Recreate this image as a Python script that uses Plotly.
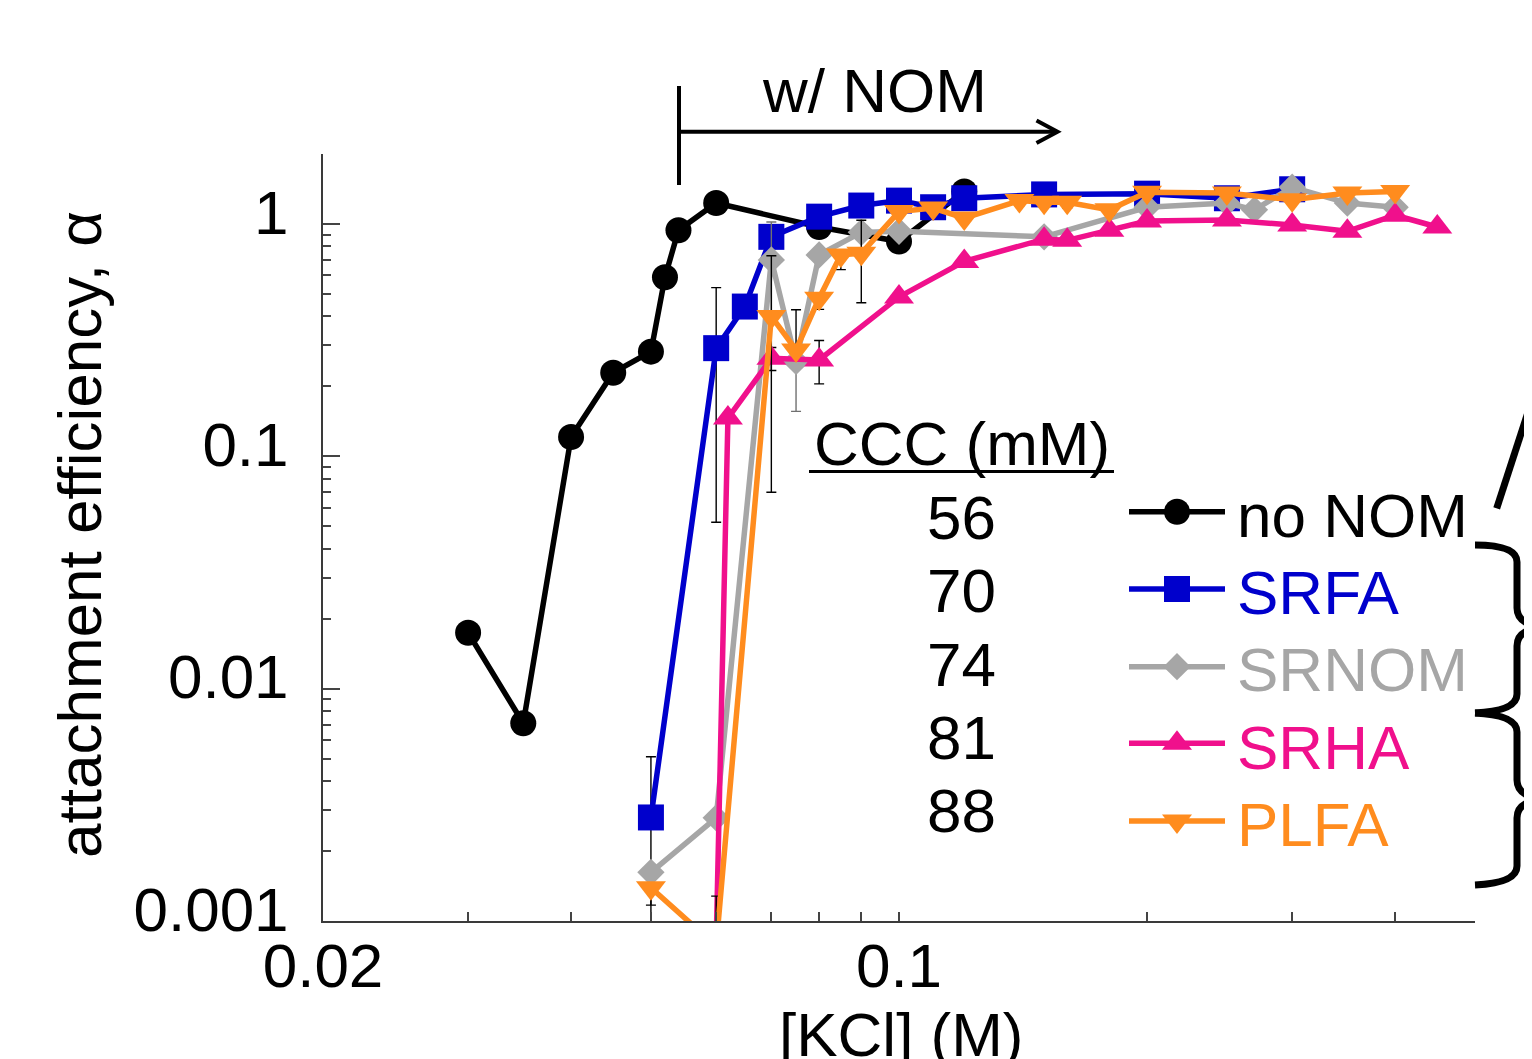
import plotly.graph_objects as go

FONT = "Liberation Sans, Arial, Helvetica, sans-serif"
FS = 62

# ---------------- data ----------------
kcl_none = [0.030, 0.035, 0.040, 0.045, 0.050, 0.052, 0.054, 0.060, 0.080, 0.100, 0.120]
alpha_none = [0.0174, 0.0071, 0.121, 0.229, 0.282, 0.59, 0.94, 1.23, 0.97, 0.84, 1.38]

kcl_srfa = [0.05, 0.06, 0.065, 0.07, 0.08, 0.09, 0.10, 0.11, 0.12, 0.15, 0.20, 0.25, 0.30]
alpha_srfa = [0.00279, 0.292, 0.441, 0.88, 1.075, 1.20, 1.26, 1.18, 1.29, 1.34, 1.35, 1.29, 1.41]
err_srfa_p = [0.0023, 0.24, 0, 0, 0, 0, 0, 0, 0, 0, 0, 0, 0]
err_srfa_m = [0.0023, 0.24, 0, 0, 0, 0, 0, 0, 0, 0, 0, 0, 0]

kcl_srnom = [0.05, 0.06, 0.07, 0.075, 0.08, 0.09, 0.10, 0.15, 0.20, 0.25, 0.27, 0.30, 0.35, 0.40]
alpha_srnom = [0.00162, 0.00278, 0.70, 0.256, 0.736, 0.92, 0.93, 0.88, 1.18, 1.23, 1.15, 1.44, 1.23, 1.18]
err_srnom_p = [0, 0, 0.32, 0, 0, 0, 0, 0, 0, 0, 0, 0, 0, 0]
err_srnom_m = [0, 0, 0.32, 0.10, 0, 0, 0, 0, 0, 0, 0, 0, 0, 0]

kcl_srha = [0.06, 0.062, 0.07, 0.08, 0.10, 0.12, 0.15, 0.16, 0.18, 0.20, 0.25, 0.30, 0.35, 0.40, 0.45]
alpha_srha = [0.0008, 0.146, 0.264, 0.26, 0.485, 0.69, 0.86, 0.85, 0.94, 1.03, 1.04, 0.99, 0.93, 1.09, 0.97]
err_srha_p = [0, 0, 0.03, 0.055, 0, 0, 0, 0, 0, 0, 0, 0, 0, 0, 0]
err_srha_m = [0, 0, 0.03, 0.055, 0, 0, 0, 0, 0, 0, 0, 0, 0, 0, 0]

kcl_plfa = [0.05, 0.06, 0.07, 0.075, 0.08, 0.085, 0.09, 0.10, 0.11, 0.12, 0.14, 0.15, 0.16, 0.18, 0.20, 0.25, 0.30, 0.35, 0.40]
alpha_plfa = [0.00139, 0.00078, 0.40, 0.287, 0.479, 0.736, 0.748, 1.13, 1.17, 1.06, 1.26, 1.24, 1.24, 1.15, 1.37, 1.36, 1.27, 1.36, 1.38]
err_plfa_p = [0, 0.0005, 0.33, 0.14, 0, 0, 0.29, 0, 0, 0, 0.06, 0, 0.07, 0.06, 0, 0, 0, 0, 0]
err_plfa_m = [0.00022, 0.0005, 0.33, 0, 0.05, 0.10, 0.29, 0, 0, 0, 0.06, 0, 0.07, 0.06, 0, 0, 0, 0, 0]

names = ["no NOM", "SRFA", "SRNOM", "SRHA", "PLFA"]
ccc_values = ["56", "70", "74", "81", "88"]
colors = ["#000000", "#0000CC", "#A6A6A6", "#F0108C", "#FF8C1E"]
symbols = ["circle", "square", "diamond", "triangle-up", "triangle-down"]
sizes = [26, 26, 21, 26, 26]

x_ticks = [0.02, 0.1]
x_ticktext = ["0.02", "0.1"]
x_minor = [0.03, 0.04, 0.05, 0.06, 0.07, 0.08, 0.09, 0.2, 0.3, 0.4, 0.5]
y_ticks = [0.001, 0.01, 0.1, 1]
y_ticktext = ["0.001", "0.01", "0.1", "1"]
y_minor = [k * 10.0 ** e for e in (-3, -2, -1) for k in range(2, 10)] + [2]

# ---------------- layout geometry (pixels, page has an 8px body margin) ----------------
W, H = 1532, 1059
OFF = 8
PL, PT, PW, PH = 323, 154, 1152, 767          # plot box as seen on the page
L, T = PL - OFF, PT - OFF
R, B = W - L - PW, H - T - PH


def xp(px):
    return (px - PL) / PW


def yp(py):
    return (PT + PH - py) / PH


fig = go.Figure()

series = [
    (kcl_none, alpha_none, None, None),
    (kcl_srfa, alpha_srfa, err_srfa_p, err_srfa_m),
    (kcl_srnom, alpha_srnom, err_srnom_p, err_srnom_m),
    (kcl_srha, alpha_srha, err_srha_p, err_srha_m),
    (kcl_plfa, alpha_plfa, err_plfa_p, err_plfa_m),
]

for i, (xs, ys, ep, em) in enumerate(series):
    kw = {}
    if ep is not None:
        kw["error_y"] = dict(type="data", symmetric=False, array=ep, arrayminus=em,
                             color="#707070" if i == 2 else "#000000", thickness=1.4, width=5)
    fig.add_trace(go.Scatter(
        x=xs, y=ys, mode="lines+markers", name=names[i],
        line=dict(color=colors[i], width=5.5),
        marker=dict(symbol=symbols[i], size=sizes[i], color=colors[i], opacity=1,
                    line=dict(width=0)),
        showlegend=False, **kw))

# manual legend (line + marker samples on an overlay axis in plot-fraction units)
leg_rows = [511.7, 589, 666.7, 743.3, 821]
for i in range(5):
    fig.add_trace(go.Scatter(
        x=[xp(1129), xp(1177), xp(1225)], y=[yp(leg_rows[i])] * 3,
        xaxis="x2", yaxis="y2", mode="lines+markers",
        line=dict(color=colors[i], width=5.5),
        marker=dict(symbol=symbols[i], size=[0, sizes[i], 0], color=colors[i], opacity=1,
                    line=dict(width=0)),
        showlegend=False, hoverinfo="skip"))

annotations = []
label_rows = [515.5, 592.5, 669.5, 747.5, 824.5]
num_rows = [517.5, 590.5, 664.5, 737.5, 810.5]
for i in range(5):
    annotations.append(dict(x=xp(1235), y=yp(label_rows[i]), xref="paper", yref="paper",
                            text=names[i], showarrow=False, xanchor="left", yanchor="middle",
                            font=dict(family=FONT, size=FS, color=colors[i])))
    annotations.append(dict(x=xp(961), y=yp(num_rows[i]), xref="paper", yref="paper",
                            text=ccc_values[i], showarrow=False, xanchor="center", yanchor="middle",
                            font=dict(family=FONT, size=FS, color="black")))

annotations += [
    dict(x=xp(962), y=yp(443.5), xref="paper", yref="paper", text="CCC (mM)", showarrow=False,
         xanchor="center", yanchor="middle", font=dict(family=FONT, size=FS, color="black")),
    dict(x=xp(874), y=yp(90), xref="paper", yref="paper", text="w/ NOM", showarrow=False,
         xanchor="center", yanchor="middle", font=dict(family=FONT, size=FS, color="black")),
    dict(x=xp(79), y=yp(535), xref="paper", yref="paper", text="attachment efficiency, α",
         textangle=-90, showarrow=False, xanchor="center", yanchor="middle",
         font=dict(family=FONT, size=FS, color="black")),
    dict(x=xp(901), y=yp(1034.5), xref="paper", yref="paper", text="[KCl] (M)", showarrow=False,
         xanchor="center", yanchor="middle", font=dict(family=FONT, size=FS, color="black")),
]


def seg(x0, y0, x1, y1, w):
    return dict(type="line", xref="paper", yref="paper", x0=xp(x0), y0=yp(y0), x1=xp(x1), y1=yp(y1),
                line=dict(color="black", width=w))


def P(px, py):
    return f"{xp(px):.5f},{yp(py):.5f}"


brace1 = ("M" + P(1475, 545) + " Q" + P(1517, 545) + " " + P(1517, 562) +
          " L" + P(1517, 608) + " Q" + P(1517, 625) + " " + P(1545, 627) +
          " Q" + P(1517, 629) + " " + P(1517, 646) + " L" + P(1517, 694) +
          " Q" + P(1517, 711) + " " + P(1475, 713))
brace2 = ("M" + P(1475, 713) + " Q" + P(1517, 715) + " " + P(1517, 732) +
          " L" + P(1517, 780) + " Q" + P(1517, 797) + " " + P(1545, 799) +
          " Q" + P(1517, 801) + " " + P(1517, 818) + " L" + P(1517, 866) +
          " Q" + P(1517, 883) + " " + P(1475, 885))

shapes = [
    seg(679, 86, 679, 185, 4),
    seg(679, 131.7, 1057, 131.7, 4),
    dict(type="path", xref="paper", yref="paper",
         path="M" + P(1036.5, 120.5) + " L" + P(1057.5, 131.7) + " L" + P(1036.5, 143),
         line=dict(color="black", width=4)),
    seg(809, 471.5, 1114, 471.5, 3),
    dict(type="path", xref="paper", yref="paper", path=brace1, line=dict(color="black", width=7)),
    dict(type="path", xref="paper", yref="paper", path=brace2, line=dict(color="black", width=7)),
    seg(1496.7, 508.3, 1560, 314, 7),
]

fig.update_layout(
    width=W, height=H,
    margin=dict(l=L, r=R, t=T, b=B, pad=0),
    paper_bgcolor="white", plot_bgcolor="white",
    font=dict(family=FONT, size=FS, color="black"),
    showlegend=False,
    xaxis=dict(type="log", range=[-1.69897, -0.30103], tickvals=x_ticks, ticktext=x_ticktext,
               ticks="inside", ticklen=9, tickwidth=1.5, tickcolor="#444",
               showline=True, linecolor="#3a3a3a", linewidth=2, showgrid=False, zeroline=False,
               tickfont=dict(family=FONT, size=FS, color="black"), ticklabelstandoff=-10,
               minor=dict(tickvals=x_minor, ticks="inside", ticklen=9, tickwidth=1.5,
                          tickcolor="#444", showgrid=False)),
    yaxis=dict(type="log", range=[-3, 0.30103], tickvals=y_ticks, ticktext=y_ticktext,
               ticks="inside", ticklen=17, tickwidth=1.5, tickcolor="#444",
               showline=True, linecolor="#3a3a3a", linewidth=2, showgrid=False, zeroline=False,
               tickfont=dict(family=FONT, size=FS, color="black"), ticklabelstandoff=20,
               ticklabelshift=-12,
               minor=dict(tickvals=y_minor, ticks="inside", ticklen=8, tickwidth=1.5,
                          tickcolor="#444", showgrid=False)),
    xaxis2=dict(overlaying="x", range=[0, 1], visible=False),
    yaxis2=dict(overlaying="y", range=[0, 1], visible=False),
    annotations=annotations,
    shapes=shapes,
)

fig.write_html("out.html")
